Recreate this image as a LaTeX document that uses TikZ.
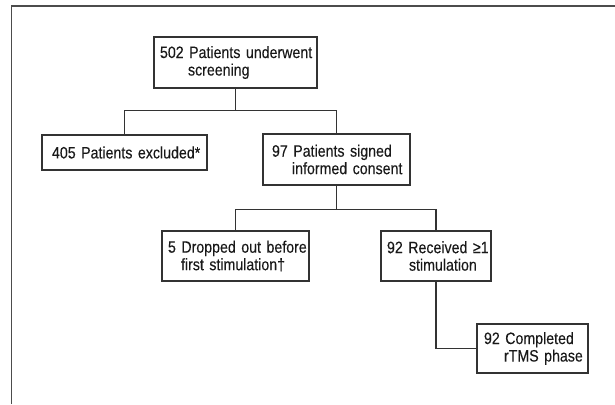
\documentclass[tikz,border=0pt]{standalone}
\usepackage{fontspec}
\setmainfont{Liberation Sans}[FakeStretch=0.86,FakeBold=0.2]
\usepackage{tikz}
\usetikzlibrary{calc,positioning}
\begin{document}
\begin{tikzpicture}[x=1pt,y=-1pt,font=\fontsize{16.5}{17.5}\selectfont]
\tikzstyle{bx}=[draw=black!80, line width=1.1pt, align=left, inner xsep=3pt, inner ysep=0pt, text=black!90]
\useasboundingbox (0,0) rectangle (615,404);
\draw[black!70, line width=1.5pt] (11.5,404) |- (615,6);
\node[bx, text width=157pt, minimum height=51pt] (scr) at (235.5,62.5){\mbox{\hspace*{3pt}502 Patients underwent}\\\mbox{\hspace*{31pt}screening}};
\node[bx, text width=159pt, minimum height=35pt] (exc) at (124.5,152.5){\mbox{\hspace*{7pt}405 Patients excluded*}};
\node[bx, text width=141pt, minimum height=51pt] (con) at (336.5,159.5){\mbox{\hspace*{6pt}97 Patients signed}\\\mbox{\hspace*{26pt}informed consent}};
\node[bx, text width=141pt, minimum height=50pt] (drp) at (235.5,256){\mbox{\hspace*{3pt}5 Dropped out before}\\\mbox{\hspace*{16pt}first stimulation†}};
\node[bx, text width=104pt, minimum height=50pt] (rec) at (436,256){\mbox{\hspace*{3pt}92 Received ≥1}\\\mbox{\hspace*{25pt}stimulation}};
\node[bx, text width=105pt, minimum height=49pt] (cmp) at (532.5,348.5){\mbox{\hspace*{4pt}92 Completed}\\\mbox{\hspace*{24pt}rTMS phase}};
\coordinate (f1) at ($(scr.south)+(0,22)$);
\coordinate (f2) at ($(con.south)+(0,24)$);
\draw[black!80, line width=1.1pt] (scr.south) -- (f1);
\draw[black!80, line width=1.1pt] (exc.north) |- (f1) -| (con.north);
\draw[black!80, line width=1.1pt] (con.south) -- (f2);
\draw[black!80, line width=1.1pt] (drp.north) |- (f2) -| (rec.north);
\draw[black!80, line width=1.1pt] (rec.south) |- (cmp.west);
\end{tikzpicture}
\end{document}
